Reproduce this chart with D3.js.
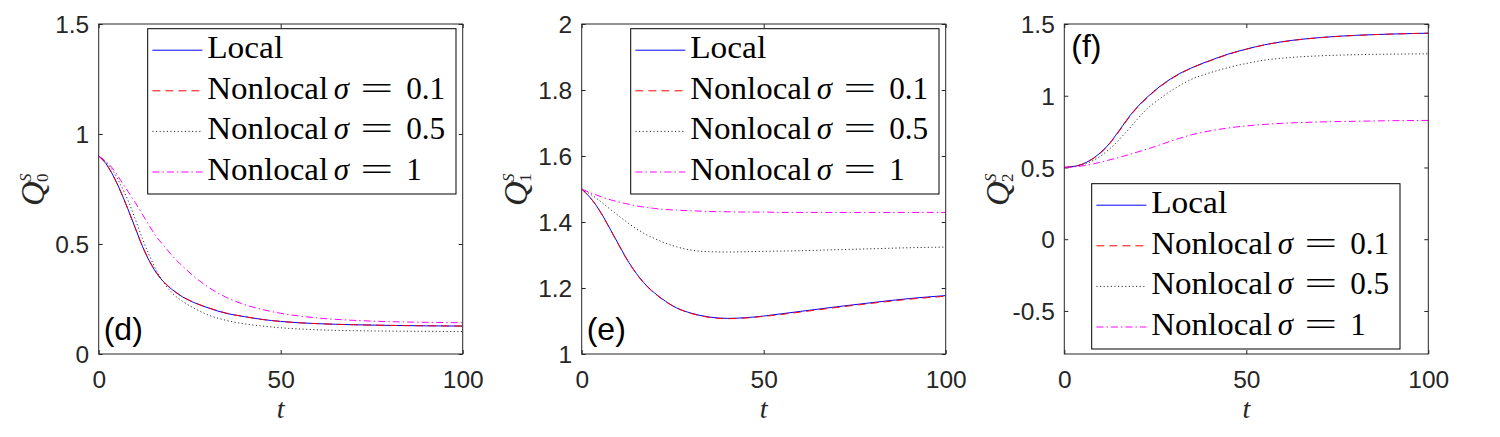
<!DOCTYPE html>
<html>
<head>
<meta charset="utf-8">
<script src="https://cdn.jsdelivr.net/npm/d3@7"></script>
<style>
  body { margin: 0; background: #fff; }
  svg { display: block; }
</style>
</head>
<body>
<div id="chart"></div>
<script>
// time grid shared by every curve
const T = [0, 2, 4, 6, 8, 10, 12, 14, 16, 18, 20, 23, 26, 30, 35, 40, 45, 50, 55, 60, 70, 80, 90, 100];

// panel (d): Q_0^S
const q0Local = [0.9, 0.865, 0.81, 0.74, 0.66, 0.575, 0.49, 0.42, 0.365, 0.325, 0.295, 0.26, 0.235, 0.21, 0.185, 0.17, 0.157, 0.148, 0.142, 0.138, 0.133, 0.13, 0.128, 0.127];
const q0Nl01 = [0.9, 0.864, 0.809, 0.739, 0.659, 0.574, 0.49, 0.421, 0.366, 0.326, 0.296, 0.261, 0.236, 0.211, 0.186, 0.17, 0.157, 0.148, 0.142, 0.138, 0.133, 0.13, 0.128, 0.127];
const q0Nl05 = [0.9, 0.872, 0.83, 0.77, 0.70, 0.615, 0.525, 0.445, 0.375, 0.322, 0.28, 0.24, 0.21, 0.178, 0.153, 0.137, 0.127, 0.119, 0.114, 0.11, 0.106, 0.104, 0.103, 0.102];
const q0Nl1 = [0.9, 0.875, 0.84, 0.79, 0.74, 0.69, 0.635, 0.58, 0.53, 0.49, 0.45, 0.40, 0.355, 0.305, 0.258, 0.225, 0.202, 0.185, 0.173, 0.164, 0.153, 0.147, 0.144, 0.142];

// panel (e): Q_1^S
const q1Local = [1.5, 1.478, 1.45, 1.415, 1.375, 1.335, 1.295, 1.26, 1.23, 1.205, 1.185, 1.16, 1.14, 1.124, 1.112, 1.108, 1.11, 1.115, 1.122, 1.129, 1.143, 1.156, 1.168, 1.177];
const q1Nl01 = [1.5, 1.478, 1.45, 1.414, 1.374, 1.334, 1.294, 1.259, 1.229, 1.204, 1.184, 1.159, 1.14, 1.123, 1.111, 1.107, 1.109, 1.114, 1.12, 1.127, 1.141, 1.154, 1.166, 1.175];
const q1Nl05 = [1.5, 1.487, 1.472, 1.455, 1.437, 1.42, 1.403, 1.387, 1.373, 1.36, 1.35, 1.336, 1.325, 1.315, 1.31, 1.309, 1.31, 1.311, 1.312, 1.313, 1.316, 1.319, 1.322, 1.324];
const q1Nl1 = [1.5, 1.49, 1.482, 1.474, 1.467, 1.461, 1.456, 1.451, 1.447, 1.444, 1.441, 1.438, 1.436, 1.434, 1.432, 1.431, 1.43, 1.43, 1.429, 1.429, 1.429, 1.429, 1.429, 1.429];

// panel (f): Q_2^S
const q2Local = [0.5, 0.505, 0.515, 0.535, 0.565, 0.605, 0.655, 0.72, 0.79, 0.86, 0.92, 0.995, 1.06, 1.13, 1.195, 1.245, 1.29, 1.325, 1.355, 1.377, 1.405, 1.421, 1.43, 1.436];
const q2Nl01 = [0.5, 0.505, 0.515, 0.534, 0.563, 0.602, 0.652, 0.716, 0.786, 0.856, 0.916, 0.991, 1.057, 1.127, 1.193, 1.243, 1.288, 1.324, 1.354, 1.376, 1.404, 1.42, 1.43, 1.436];
const q2Nl05 = [0.5, 0.504, 0.512, 0.527, 0.55, 0.58, 0.62, 0.665, 0.72, 0.775, 0.835, 0.915, 0.975, 1.045, 1.115, 1.16, 1.196, 1.225, 1.248, 1.262, 1.278, 1.286, 1.29, 1.292];
const q2Nl1 = [0.5, 0.503, 0.508, 0.515, 0.525, 0.537, 0.55, 0.563, 0.577, 0.592, 0.607, 0.63, 0.655, 0.69, 0.728, 0.755, 0.775, 0.79, 0.8, 0.808, 0.817, 0.822, 0.826, 0.828];

// ticks
const xTicks = [0, 50, 100];
const q0Ticks = [0, 0.5, 1, 1.5];
const q1Ticks = [1, 1.2, 1.4, 1.6, 1.8, 2];
const q2Ticks = [-0.5, 0, 0.5, 1, 1.5];

// legend entries
const seriesNames = ['Local', 'Nonlocal', 'Nonlocal', 'Nonlocal'];
const sigmaValues = [null, '0.1', '0.5', '1'];

const panels = [
    {letter: '(d)', sub: '0', domain: [0, 1.5], ticks: q0Ticks, series: [q0Local, q0Nl01, q0Nl05, q0Nl1], legendBottom: false, letterTop: false},
    {letter: '(e)', sub: '1', domain: [1, 2], ticks: q1Ticks, series: [q1Local, q1Nl01, q1Nl05, q1Nl1], legendBottom: false, letterTop: false},
    {letter: '(f)', sub: '2', domain: [-0.8, 1.5], ticks: q2Ticks, series: [q2Local, q2Nl01, q2Nl05, q2Nl1], legendBottom: true, letterTop: true}
];

const styles = [
    {color: '#0000ff', dash: null},
    {color: '#ff0000', dash: '8,5'},
    {color: '#333333', dash: '1.2,2.4'},
    {color: '#ff00ff', dash: '7,3,1.5,3'}
];

const W = 1500, H = 437;
const plotW = 364, plotH = 330;
const top0 = 24;
const lefts = [98.7, 581.7, 1064.3];
const axisColor = '#262626';
const sansFont = '"Liberation Sans", Arial, Helvetica, sans-serif';
const serifFont = '"Liberation Serif", "Times New Roman", serif';

let svg = d3.select('#chart').append('svg')
    .attr('width', W)
    .attr('height', H);

panels.forEach((p, pi) => {
    let g = svg.append('g')
        .attr('transform', 'translate(' + lefts[pi] + ',' + top0 + ')');

    let x = d3.scaleLinear().domain([0, 100]).range([0, plotW]);
    let y = d3.scaleLinear().domain(p.domain).range([plotH, 0]);

    // axes (inward ticks on all four sides, MATLAB style)
    let fmt = d => String(d);
    let axB = g.append('g').attr('transform', 'translate(0,' + plotH + ')')
        .call(d3.axisBottom(x).tickValues(xTicks).tickSize(-4).tickPadding(17).tickFormat(fmt));
    let axT = g.append('g')
        .call(d3.axisTop(x).tickValues(xTicks).tickSize(-4).tickFormat(''));
    let axL = g.append('g')
        .call(d3.axisLeft(y).tickValues(p.ticks).tickSize(-4).tickPadding(9.5).tickFormat(fmt));
    let axR = g.append('g').attr('transform', 'translate(' + plotW + ',0)')
        .call(d3.axisRight(y).tickValues(p.ticks).tickSize(-4).tickFormat(''));

    [axB, axT, axL, axR].forEach(a => {
        a.select('.domain').remove();
        a.selectAll('line').attr('stroke', axisColor).attr('stroke-width', 1);
        a.selectAll('text')
            .attr('fill', axisColor)
            .style('font-family', sansFont)
            .style('font-size', '24.5px');
    });
    axL.selectAll('text').attr('dy', '0.35em');

    // clip for curves
    let clipId = 'clip' + pi;
    g.append('clipPath').attr('id', clipId)
        .append('rect').attr('width', plotW).attr('height', plotH);

    let line = d3.line()
        .x((d, i) => x(T[i]))
        .y(d => y(d))
        .curve(d3.curveMonotoneX);

    let curves = g.append('g').attr('clip-path', 'url(#' + clipId + ')');
    p.series.forEach((s, si) => {
        curves.append('path')
            .datum(s)
            .attr('d', line)
            .attr('fill', 'none')
            .attr('stroke', styles[si].color)
            .attr('stroke-width', 1)
            .attr('stroke-dasharray', styles[si].dash);
    });

    // frame
    g.append('rect')
        .attr('width', plotW).attr('height', plotH)
        .attr('fill', 'none')
        .attr('stroke', axisColor)
        .attr('stroke-width', 1);

    // panel letter
    g.append('text')
        .attr('x', p.letterTop ? 7 : 5)
        .attr('y', p.letterTop ? 33 : plotH - 14)
        .style('font-family', sansFont)
        .style('font-size', '32px')
        .attr('fill', '#000')
        .text(p.letter);

    // x label
    g.append('text')
        .attr('x', plotW / 2)
        .attr('y', plotH + 64)
        .attr('text-anchor', 'middle')
        .style('font-family', serifFont)
        .style('font-style', 'italic')
        .style('font-size', '28px')
        .attr('fill', axisColor)
        .text('t');

    // y label Q_k^S (rotated)
    let yl = g.append('g')
        .attr('transform', 'translate(-55,' + (plotH / 2) + ') rotate(-90)')
        .attr('fill', axisColor)
        .style('font-family', serifFont);
    yl.append('text').attr('x', -17).attr('y', 0)
        .style('font-style', 'italic').style('font-size', '34px').text('Q');
    yl.append('text').attr('x', 7).attr('y', -13)
        .style('font-style', 'italic').style('font-size', '17px').text('S');
    yl.append('text').attr('x', 7).attr('y', 4)
        .style('font-size', '17px').text(p.sub);

    // legend
    let lw = 308.3, lh = 165.3;
    let lx = p.legendBottom ? 27.4 : 49;
    let ly = p.legendBottom ? plotH - 5 - lh : 4.7;
    let lg = g.append('g').attr('transform', 'translate(' + lx + ',' + ly + ')');
    lg.append('rect')
        .attr('width', lw).attr('height', lh)
        .attr('fill', '#fff')
        .attr('stroke', '#000')
        .attr('stroke-width', 1);

    seriesNames.forEach((name, si) => {
        let ry = 21.5 + si * 40.6;
        let row = lg.append('g').attr('transform', 'translate(0,' + ry + ')');
        row.append('line')
            .attr('x1', 4.7).attr('x2', 54.7)
            .attr('y1', 0).attr('y2', 0)
            .attr('stroke', styles[si].color)
            .attr('stroke-width', 1)
            .attr('stroke-dasharray', styles[si].dash);

        let tx = 59.5, base = 8;
        let piece = (str, dx, len, italic) => {
            let t = row.append('text')
                .attr('x', tx + dx).attr('y', base)
                .style('font-family', serifFont)
                .style('font-size', '31px')
                .style('font-style', italic ? 'italic' : 'normal')
                .attr('fill', '#000')
                .text(str);
            if (len) t.attr('textLength', len).attr('lengthAdjust', 'spacingAndGlyphs');
        };
        if (sigmaValues[si] === null) {
            piece(name, 0, 76, false);
        } else {
            piece(name, 0, 121, false);
            piece('\u03c3', 126.5, null, true);
            piece('=', 153, 33, false);
            piece(sigmaValues[si], 199, sigmaValues[si].length > 1 ? 39 : null, false);
        }
    });
});
</script>
</body>
</html>
